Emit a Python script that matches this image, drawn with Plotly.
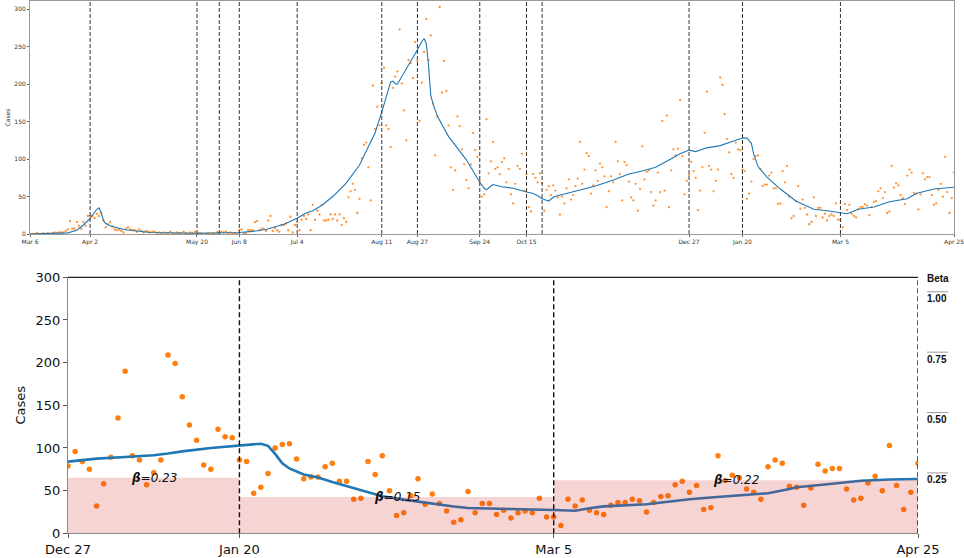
import pandas as pd
import plotly.graph_objects as go

# daily cases, Mar 6 2020 .. Dec 26 2020
cases_before_zoom = [
    0, 0, 0, 1, 0, 0, 1, 0, 1, 0, 1, 2, 1,
    2, 2, 2, 4, 6, 17, 7, 7, 16, 11, 7, 16, 11, 24, 24, 24, 21, 27, 24, 28,
    18, 9, 13, 16, 10, 6, 5, 6, 4, 2, 7, 9, 6, 5,
    5, 3, 6, 4, 2, 4, 3, 2, 3, 3, 1, 2, 1, 2, 0, 1, 3, 1, 0, 2, 1, 1, 3, 1,
    0, 2, 1, 3, 0, 1, 1, 0, 0, 1, 0, 1, 0, 2, 1, 3, 2, 3, 1, 2, 0, 1, 0,
    5, 6, 1, 1, 5, 5, 5, 16, 17, 5, 7, 7, 4, 18, 24, 4, 8, 5, 3, 12, 12, 14,
    5, 23, 2, 12,
    16, 5, 19, 24, 20, 26, 5, 39, 19, 31, 26, 39, 18, 18, 19, 26, 20, 26, 18,
    26, 12, 21, 16, 49, 57, 67, 59, 28, 47, 101, 119, 122, 89, 45, 198, 140,
    170, 145, 201, 222, 145, 140, 116, 195, 210, 217, 273, 201, 165, 125, 232,
    228, 208, 256, 231, 151, 202, 243, 287, 232, 265, 174, 105, 157, 303, 189,
    231, 191, 145, 89, 59, 85, 157, 144, 113, 93, 72, 61, 93, 135, 112, 103,
    71, 50, 53, 153, 81, 97, 123, 87, 89, 80, 96, 101, 69, 87, 53, 41, 67, 91,
    87, 107, 58, 80, 36, 30, 80, 75, 69, 81, 68, 31, 59, 64, 52, 65, 58, 49,
    26, 50, 41, 61, 73, 46, 52, 64, 74, 123, 67, 86, 108, 104, 54, 65, 85, 71,
    94, 89, 77, 36, 57, 77, 69, 123, 97, 80, 45, 96, 92, 70, 49, 45, 67, 31,
    60, 117, 73, 83, 85, 56, 38, 45, 82, 56, 151, 58, 158, 36, 85, 113, 105,
    114, 179, 104, 53, 71,
]

# daily cases, Dec 27 2020 .. Apr 25 2021 (zoomed panel)
cases_zoom = [
    79, 96, 84, 75, 32, 58, 89, 135, 190, 91, 86, 57, 71, 86, 209, 199, 160,
    127, 109, 80, 75, 122, 113, 112, 86, 84, 47, 54, 70, 100, 104, 105, 87,
    64, 66, 66, 78, 82, 61, 61, 40, 41, 84, 69, 91, 50, 21, 24, 44, 64, 34,
    46, 35, 26, 13, 16, 49, 24, 35, 35, 22, 27, 18, 24, 26, 24, 41, 19, 19,
    9, 40, 32, 39, 27, 24, 22, 33, 36, 36, 40, 38, 25, 36, 43, 44, 57, 61,
    48, 56, 28, 30, 91, 62, 68, 65, 52, 48, 40, 78, 86, 82, 55, 54, 33, 53,
    81, 73, 76, 76, 52, 39, 41, 59, 67, 50, 103, 56, 28, 48, 82,
]

# model fit over the whole period (days after Mar 6 2020)
fit_full_days = [0, 10, 14, 17, 21, 24, 27, 30, 31, 32, 33, 34, 36, 42, 54, 75,
                 94, 100, 106, 114, 120, 124, 127, 131, 136, 142, 148, 152,
                 155, 158, 160, 162, 163, 164, 165, 167, 170, 174, 176, 177,
                 178, 179, 180, 181, 183, 188, 196, 202, 204, 205, 207, 208,
                 212, 217, 223, 226, 228, 230, 233, 235, 237, 247, 254, 262,
                 269, 275, 281, 286, 292, 296, 299, 304, 310, 316, 320, 322,
                 324, 325, 327, 331, 337, 344, 352, 358, 364, 367, 372, 379,
                 386, 394, 398, 406, 415]
fit_full_vals = [0, 0.3, 0.8, 1.5, 5, 12, 21, 33, 35, 28, 18, 14, 11, 6, 2, 1,
                 2, 3.5, 6, 13, 21, 28, 31, 38, 50, 68, 92, 116,
                 135, 163, 183, 203, 204, 201, 200, 210, 225, 246, 257, 261,
                 254, 225, 185, 174, 157, 130, 99, 69, 61, 59, 64, 66,
                 63, 61, 56, 54, 51, 47, 44, 49, 51, 59, 64, 72,
                 80, 84, 89, 97, 107, 112, 110, 115, 118, 124, 128, 128,
                 121, 107, 90, 76, 60, 44, 33, 31, 28, 27, 33, 36,
                 43, 47, 54, 60, 62.5]

# model fit for the zoomed window (days after Dec 27 2020)
fit_zoom_days = [0, 4, 8, 12, 14, 16, 20, 24, 27, 28, 29, 30, 31, 33, 35, 37,
                 40, 42, 44, 47, 49, 51, 54, 56, 58, 62, 68, 71, 73, 75, 81,
                 83, 87, 90, 97, 98, 101, 102, 107, 111, 115, 119]
fit_zoom_vals = [84, 87.5, 89.5, 91.5, 93.5, 96, 100, 103, 105, 102.5, 93, 82,
                 76, 69, 65.5, 60, 53, 48.8, 43.5, 39.5, 37, 34.4, 31.5, 29.7,
                 29.5, 28.5, 27.3, 26.5, 29.3, 31.5, 34, 36, 40, 42, 45.7, 47,
                 52, 54, 58, 61.5, 63, 63.7]

change_dates = ["2020-04-02", "2020-05-20", "2020-05-30", "2020-06-08",
                "2020-07-04", "2020-08-11", "2020-08-27", "2020-09-24",
                "2020-10-15", "2020-10-22", "2020-12-27", "2021-01-20",
                "2021-03-05"]
top_tick_dates = ["2020-03-06", "2020-04-02", "2020-05-20", "2020-06-08",
                  "2020-07-04", "2020-08-11", "2020-08-27", "2020-09-24",
                  "2020-10-15", "2020-12-27", "2021-01-20", "2021-03-05",
                  "2021-04-25"]

segment_bounds = ["2020-12-27", "2021-01-20", "2021-03-05", "2021-04-25"]
betas = [0.23, 0.15, 0.22]
beta_ticks = [0.25, 0.50, 0.75, 1.00]

START = pd.Timestamp("2020-03-06")
ZOOM_START = pd.Timestamp("2020-12-27")
FONT = "DejaVu Sans"
BLUE = "#1f77b4"
ORANGE = "#ff7f0e"


def label(d):
    d = pd.Timestamp(d)
    return f"{d:%b} {d.day}"


all_cases = cases_before_zoom + cases_zoom
all_dates = pd.date_range(START, periods=len(all_cases))
zoom_dates = pd.date_range(ZOOM_START, periods=len(cases_zoom))
fit_full_x = [START + pd.Timedelta(days=d) for d in fit_full_days]
fit_zoom_x = [ZOOM_START + pd.Timedelta(days=d) for d in fit_zoom_days]
bounds = [pd.Timestamp(d) for d in segment_bounds]

fig = go.Figure()

# top panel: whole period
fig.add_trace(go.Scatter(x=all_dates, y=all_cases, mode="markers",
                         marker=dict(color=ORANGE, size=2.3, opacity=0.85),
                         xaxis="x", yaxis="y", hoverinfo="skip"))
fig.add_trace(go.Scatter(x=fit_full_x, y=fit_full_vals, mode="lines",
                         line=dict(color=BLUE, width=1.1),
                         xaxis="x", yaxis="y", hoverinfo="skip"))

# bottom panel: zoomed window
fig.add_trace(go.Scatter(x=zoom_dates, y=cases_zoom, mode="markers",
                         marker=dict(color=ORANGE, size=5.5),
                         xaxis="x2", yaxis="y2"))
fig.add_trace(go.Scatter(x=fit_zoom_x, y=fit_zoom_vals, mode="lines",
                         line=dict(color=BLUE, width=2.6),
                         xaxis="x2", yaxis="y2"))
# beta per segment, on the twin axis
fig.add_trace(go.Scatter(x=bounds, y=betas + [betas[-1]], mode="lines",
                         line=dict(width=0, shape="hv"), fill="tozeroy",
                         fillcolor="rgba(214,39,40,0.2)",
                         xaxis="x2", yaxis="y3", hoverinfo="skip"))

shapes = []
for d in change_dates:
    shapes.append(dict(type="line", xref="x", yref="y domain", x0=d, x1=d,
                       y0=0, y1=1, line=dict(color="#333", width=1,
                                             dash="4px,2px")))
for d in bounds[1:]:
    shapes.append(dict(type="line", xref="x2", yref="y2 domain", x0=d, x1=d,
                       y0=0, y1=1, line=dict(color="#111", width=1.4,
                                             dash="5px,3px")))
# top spine of bottom panel
shapes.append(dict(type="line", xref="x2 domain", yref="y2 domain", x0=0,
                   x1=1, y0=1, y1=1, line=dict(color="#222", width=1.2)))
for t in beta_ticks:
    shapes.append(dict(type="line", xref="paper", yref="y3",
                       x0=927 / 964, x1=948 / 964, y0=t, y1=t,
                       line=dict(color="#999", width=1)))

annotations = []
for i, b in enumerate(betas):
    mid = bounds[i] + (bounds[i + 1] - bounds[i]) / 2
    annotations.append(dict(x=mid, y=b, xref="x2", yref="y3",
                            text=f"<b><i>β</i></b><i>={b:.2f}</i>",
                            showarrow=False, xanchor="center",
                            yanchor="middle",
                            font=dict(family=FONT, size=12, color="#111")))
annotations.append(dict(x=938 / 964, y=1 - 278.5 / 558, xref="paper",
                        yref="paper", text="Beta", showarrow=False,
                        xanchor="center", yanchor="middle",
                        font=dict(family="Liberation Sans", size=10,
                                  color="#111", weight="bold")))

small = dict(family=FONT, size=6, color="#333")
big = dict(family=FONT, size=13, color="#111")

fig.update_layout(
    width=964, height=558,
    margin=dict(l=0, r=0, t=0, b=0),
    paper_bgcolor="white", plot_bgcolor="white",
    showlegend=False,
    font=dict(family=FONT),
    shapes=shapes,
    annotations=annotations,
    xaxis=dict(domain=[30 / 964, 954 / 964], anchor="y",
               range=[all_dates[0], all_dates[-1]],
               tickvals=top_tick_dates,
               ticktext=[label(d) for d in top_tick_dates],
               tickfont=small, ticks="outside", ticklen=2,
               tickcolor="#666", ticklabeloverflow="allow",
               showgrid=False, zeroline=False,
               showline=True, linecolor="#999", linewidth=1, mirror=True,
               automargin=False),
    yaxis=dict(domain=[1 - 234 / 558, 1 - 1 / 558], anchor="x",
               range=[0, 311], tickvals=[0, 50, 100, 150, 200, 250, 300],
               tickfont=small, ticks="outside", ticklen=2, tickcolor="#666",
               title=dict(text="Cases", font=small, standoff=3),
               showgrid=False, zeroline=False, showline=True,
               linecolor="#999", linewidth=1, mirror=True, automargin=False),
    xaxis2=dict(domain=[68 / 964, 918 / 964], anchor="y2",
                range=[zoom_dates[0], zoom_dates[-1]],
                tickvals=segment_bounds,
                ticktext=[label(d) for d in segment_bounds],
                tickfont=big, ticks="outside", ticklen=4, tickcolor="#555",
                ticklabeloverflow="allow",
                showgrid=False, zeroline=False, showline=True,
                linecolor="#888", linewidth=1.2, automargin=False),
    yaxis2=dict(domain=[1 - 533.3 / 558, 1 - 277.3 / 558], anchor="x2",
                range=[0, 300], tickvals=[0, 50, 100, 150, 200, 250, 300],
                tickfont=big, ticks="outside", ticklen=4, tickcolor="#555",
                title=dict(text="Cases", font=big, standoff=6),
                showgrid=False, zeroline=False, showline=True,
                linecolor="#888", linewidth=1.2, automargin=False),
    yaxis3=dict(overlaying="y2", anchor="x2", side="right",
                range=[0, 1.06], tickvals=beta_ticks,
                ticktext=[f"{t:.2f}" for t in beta_ticks],
                tickfont=dict(family="Liberation Sans", size=10,
                              color="#111", weight="bold"),
                ticks="", ticklabelposition="outside bottom",
                ticklabelstandoff=8,
                showgrid=False, zeroline=False, showline=False,
                automargin=False),
)

# the page's default body margin would push the figure out of the window
fig.write_html("out.html", config={"displayModeBar": False},
               post_script="document.body.style.margin = '0';")
